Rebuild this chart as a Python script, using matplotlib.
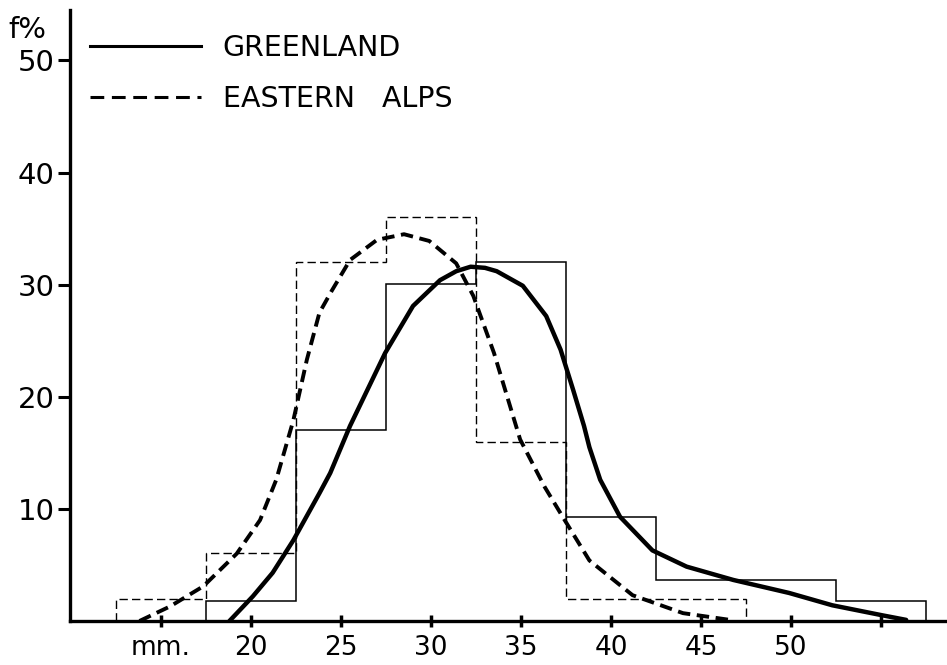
import matplotlib
matplotlib.use("Agg")
import matplotlib.pyplot as plt
from matplotlib.lines import Line2D

# ---- data ----
edges_greenland = [17.5, 22.5, 27.5, 32.5, 37.5, 42.5, 47.5, 52.5, 57.5]
hist_greenland = [1.8, 17.0, 30.1, 32.0, 9.3, 3.7, 3.7, 1.8]

edges_alps = [12.5, 17.5, 22.5, 27.5, 32.5, 37.5, 42.5, 47.5]
hist_alps = [2.0, 6.1, 32.0, 36.0, 16.0, 2.0, 2.0]

curve_greenland_x = [18.8, 20.1, 21.2, 22.35, 23.8, 24.4, 25.5, 27.45, 29.0, 30.5,
                     31.4, 32.2, 33.0, 33.65, 35.1, 36.4, 37.2, 37.9, 38.5, 38.8,
                     39.4, 40.5, 42.3, 44.2, 46.8, 49.9, 52.3, 55.1, 56.4]
curve_greenland_y = [0.0, 2.2, 4.3, 7.2, 11.4, 13.2, 17.4, 23.9, 28.1, 30.4,
                     31.2, 31.6, 31.5, 31.2, 29.9, 27.2, 24.2, 20.6, 17.4, 15.5,
                     12.6, 9.3, 6.3, 4.85, 3.66, 2.5, 1.4, 0.5, 0.1]

curve_alps_x = [13.8, 15.5, 17.35, 19.2, 20.5, 21.4, 22.35, 23.1, 23.8, 24.5,
                25.5, 27.0, 28.5, 29.9, 31.4, 32.35, 33.5, 34.95, 36.3, 37.35,
                38.8, 41.2, 44.0, 46.6]
curve_alps_y = [0.0, 1.3, 3.1, 6.0, 9.0, 12.6, 17.9, 23.3, 27.5, 29.5,
                32.2, 34.0, 34.5, 33.9, 31.9, 29.0, 23.9, 16.2, 12.0, 9.2,
                5.4, 2.3, 0.7, 0.1]

x_ticks = [15, 20, 25, 30, 35, 40, 45, 50, 55]
x_tick_labels = ["mm.", "20", "25", "30", "35", "40", "45", "50", ""]
y_ticks = [10, 20, 30, 40, 50]
y_tick_labels = ["10", "20", "30", "40", "50"]
series_labels = ["GREENLAND", "EASTERN   ALPS"]

# ---- figure ----
plt.rcParams['font.family'] = ['DejaVu Sans']
fig = plt.figure(figsize=(9.47, 6.65), dpi=100)
ax = fig.add_axes([70 / 947, 44 / 665, 877 / 947, 611 / 665])
ax.set_xlim(9.94, 58.67)
ax.set_ylim(0, 54.5)

ax.stairs(hist_greenland, edges_greenland, baseline=0, color="black", lw=1.1)
ax.stairs(hist_alps, edges_alps, baseline=0, color="black", lw=1.0,
          linestyle=(0, (6, 3)))

ax.plot(curve_greenland_x, curve_greenland_y, color="black", lw=3.2,
        solid_capstyle="round", solid_joinstyle="round")
ax.plot(curve_alps_x, curve_alps_y, color="black", lw=2.8,
        linestyle=(0, (3.2, 1.7)))

for s in ["top", "right"]:
    ax.spines[s].set_visible(False)
for s in ["left", "bottom"]:
    ax.spines[s].set_linewidth(2.4)

ax.set_xticks(x_ticks)
ax.set_xticklabels(x_tick_labels)
ax.set_yticks(y_ticks)
ax.set_yticklabels(y_tick_labels)
ax.tick_params(axis="x", direction="inout", length=8, width=2.5, pad=6,
               labelsize=19)
ax.tick_params(axis="y", direction="out", length=9, width=2.2, pad=2,
               labelsize=21)

fig.text(8 / 947, 1 - 38 / 665, "f%", fontsize=21, ha="left", va="baseline")

handles = [Line2D([], [], color="black", lw=2.2),
           Line2D([], [], color="black", lw=2.2, linestyle=(0, (4.5, 2.5)))]
ax.legend(handles, series_labels, loc="upper left",
          bbox_to_anchor=(6 / 877, 1 - 10 / 611), frameon=False,
          fontsize=20.5, handlelength=3.9, handletextpad=0.75,
          labelspacing=0.8, borderpad=0)

fig.savefig("out.png", dpi=100)
